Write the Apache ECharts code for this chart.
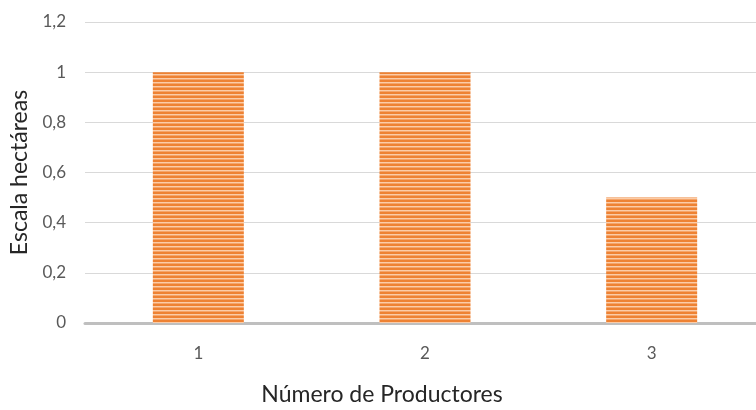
<!DOCTYPE html>
<html style="height: 100%">
<head>
    <meta charset="utf-8">
    <title>ECharts</title>
    <script src="https://cdn.jsdelivr.net/npm/echarts/dist/echarts.min.js"></script>
</head>
<body style="height: 100%; margin: 0; background: #fff">
    <div id="main" style="width: 756px; height: 410px"></div>
    <script type="text/javascript">
        // 数据
        var categories = ['1', '2', '3'];
        var hectareas = [1, 1, 0.5];
        var yTicks = [0, 0.2, 0.4, 0.6, 0.8, 1, 1.2];

        var myChart = echarts.init(document.getElementById('main'));

        // 横条纹填充
        var tile = document.createElement('canvas');
        tile.width = 4;
        tile.height = 4;
        var ctx = tile.getContext('2d');
        ctx.fillStyle = '#EE8233';
        ctx.fillRect(0, 0, 4, 4);
        ctx.fillStyle = '#FBCCA8';
        ctx.fillRect(0, 2, 4, 1);
        ctx.fillStyle = '#F5A56A';
        ctx.fillRect(0, 3, 4, 1);

        var option = {
            animation: false,
            textStyle: { fontFamily: 'Lato' },
            grid: { left: 85, right: -9, top: 22, bottom: 87, containLabel: false, outerBoundsMode: 'none' },
            xAxis: {
                type: 'category',
                data: categories,
                name: 'Número de Productores',
                nameLocation: 'middle',
                nameGap: 60,
                nameTextStyle: { fontSize: 23, color: '#262626', padding: [0, 86, 0, 0] },
                axisLine: { lineStyle: { color: '#BFBFBF', width: 3 } },
                axisTick: { show: false },
                axisLabel: { fontSize: 17, color: '#595959', margin: 22 }
            },
            yAxis: {
                type: 'value',
                min: yTicks[0],
                max: yTicks[yTicks.length - 1],
                interval: 0.2,
                name: 'Escala hectáreas',
                nameLocation: 'middle',
                nameGap: 52,
                nameTextStyle: { fontSize: 23, color: '#262626' },
                axisLine: { show: false },
                axisTick: { show: false },
                axisLabel: {
                    fontSize: 17,
                    color: '#595959',
                    margin: 19,
                    formatter: function (v) {
                        return String(Math.round(v * 10) / 10).replace('.', ',');
                    }
                },
                splitLine: { lineStyle: { color: '#D9D9D9', width: 1 } }
            },
            series: [
                {
                    type: 'bar',
                    data: hectareas,
                    barWidth: 91,
                    itemStyle: {
                        color: { image: tile, repeat: 'repeat' }
                    }
                }
            ]
        };

        myChart.setOption(option);
    </script>
</body>
</html>
